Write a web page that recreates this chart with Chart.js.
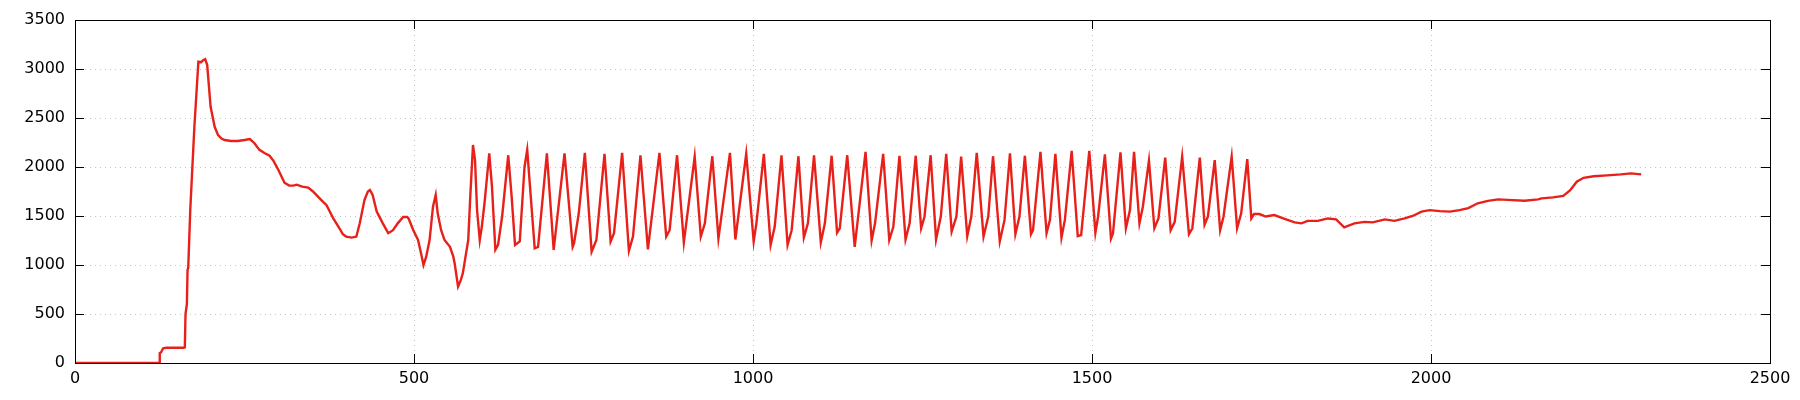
<!DOCTYPE html>
<html>
<head>
<meta charset="utf-8">
<script src="https://cdn.jsdelivr.net/npm/chart.js@4/dist/chart.umd.min.js"></script>
<style>
  html, body { margin: 0; padding: 0; background: #fff; }
  #wrap { width: 1800px; height: 400px; }
</style>
</head>
<body>
<div id="wrap"><canvas id="chart" width="1800" height="400"></canvas></div>
<script>
// x positions of the samples
const xValues = [
  0, 124, 125, 127, 130, 135, 160, 162, 163, 165, 166, 167, 170, 176, 182, 186, 189, 192, 195, 200,
  206, 211, 216, 221, 230, 240, 250, 258, 265, 272, 280, 287, 293, 300, 309, 316, 322, 327, 335, 344,
  351, 363, 371, 381, 390, 395, 400, 408, 415, 420, 427, 432, 435, 439, 445, 454, 462, 469, 476, 484,
  490, 492, 499, 506, 511, 514, 518, 523, 528, 532, 535, 540, 545, 553, 558, 560, 565, 569, 572, 576,
  580, 583, 587, 590, 593, 597, 600, 604, 611, 615, 620, 624, 630, 639, 644, 649, 656, 663, 667, 678,
  683, 696, 706, 722, 734, 736, 743, 752, 762, 769, 781, 790, 795, 807, 817, 823, 834, 845, 862, 872,
  877, 888, 898, 914, 923, 929, 940, 949, 966, 974, 990, 1001, 1005, 1016, 1026, 1032, 1042, 1051, 1057, 1067,
  1075, 1081, 1090, 1100, 1106, 1116, 1124, 1128, 1139, 1150, 1166, 1175, 1180, 1192, 1201, 1207, 1216, 1225, 1231, 1240,
  1248, 1253, 1262, 1270, 1277, 1285, 1293, 1300, 1307, 1316, 1322, 1330, 1340, 1347, 1354, 1364, 1371, 1379, 1387, 1393,
  1401, 1410, 1413, 1424, 1433, 1438, 1446, 1455, 1460, 1470, 1479, 1484, 1496, 1505, 1509, 1519, 1528, 1531, 1542, 1550,
  1556, 1562, 1570, 1575, 1584, 1592, 1598, 1608, 1616, 1622, 1633, 1643, 1648, 1659, 1666, 1671, 1681, 1689, 1694, 1706,
  1714, 1720, 1729, 1735, 1739, 1747, 1756, 1769, 1784, 1799, 1809, 1818, 1833, 1848, 1860, 1872, 1887, 1902, 1914, 1932,
  1946, 1961, 1973, 1986, 1998, 2013, 2028, 2042, 2055, 2069, 2084, 2099, 2113, 2138, 2158, 2163, 2180, 2195, 2205, 2215,
  2225, 2240, 2260, 2280, 2295, 2310
];

// measured values at those positions
const yValues = [
  0, 0, 100, 110, 150, 155, 155, 160, 500, 600, 950, 970, 1560, 2400, 3075, 3070, 3090, 3100, 3040, 2615,
  2410, 2325, 2290, 2275, 2265, 2265, 2275, 2285, 2240, 2175, 2140, 2115, 2060, 1970, 1840, 1810, 1810, 1820, 1800, 1790,
  1750, 1665, 1610, 1475, 1375, 1315, 1290, 1280, 1290, 1425, 1665, 1750, 1765, 1715, 1545, 1425, 1325, 1355, 1425, 1490,
  1490, 1475, 1355, 1255, 1100, 1000, 1085, 1255, 1595, 1715, 1525, 1355, 1255, 1185, 1085, 1015, 780, 845, 915, 1085,
  1255, 1700, 2225, 2070, 1560, 1255, 1390, 1630, 2140, 1800, 1155, 1205, 1495, 2120, 1700, 1205, 1240, 2000, 2175, 1170,
  1185, 2140, 1155, 2140, 1185, 1220, 1525, 2145, 1135, 1255, 2135, 1240, 1325, 2145, 1145, 1290, 2120, 1160, 2145, 1290,
  1355, 2120, 1230, 2105, 1290, 1425, 2110, 1270, 2145, 1260, 2135, 1240, 1425, 2135, 1205, 1390, 2120, 1205, 1355, 2110,
  1280, 1425, 2120, 1230, 1425, 2115, 1330, 1375, 2120, 1185, 2155, 1250, 1425, 2135, 1255, 1390, 2115, 1260, 1425, 2115,
  1375, 1495, 2120, 1260, 1495, 2135, 1340, 1495, 2105, 1295, 1495, 2145, 1290, 1495, 2110, 1240, 1460, 2140, 1315, 1495,
  2115, 1315, 1355, 2155, 1325, 1460, 2135, 1280, 1460, 2165, 1295, 1305, 2165, 1330, 1495, 2130, 1270, 1325, 2150, 1375,
  1560, 2155, 1425, 1595, 2065, 1375, 1475, 2095, 1355, 1440, 2105, 1315, 1375, 2095, 1410, 1495, 2070, 1355, 1495, 2105,
  1375, 1525, 2080, 1475, 1520, 1520, 1495, 1510, 1470, 1435, 1425, 1450, 1450, 1475, 1465, 1385, 1425, 1440, 1435, 1465,
  1450, 1475, 1500, 1545, 1560, 1550, 1545, 1560, 1580, 1630, 1655, 1670, 1665, 1655, 1670, 1680, 1690, 1705, 1760, 1850,
  1890, 1905, 1915, 1925, 1935, 1925
];

const xTicks = [0, 500, 1000, 1500, 2000, 2500];
const yTicks = [0, 500, 1000, 1500, 2000, 2500, 3000, 3500];

const points = xValues.map((x, i) => ({ x: x, y: yValues[i] }));

// gnuplot-like frame: full box and inward ticks on all four sides
const framePlugin = {
    id: 'frame',
    afterDraw(chart) {
        const ctx = chart.ctx;
        const a = chart.chartArea;
        const xs = chart.scales.x;
        const ys = chart.scales.y;
        const len = 9;
        ctx.save();
        ctx.strokeStyle = '#000';
        ctx.lineWidth = 1;
        ctx.beginPath();
        xTicks.forEach(v => {
            const px = Math.round(xs.getPixelForValue(v)) + 0.5;
            ctx.moveTo(px, a.bottom);
            ctx.lineTo(px, a.bottom - len);
            ctx.moveTo(px, a.top);
            ctx.lineTo(px, a.top + len);
        });
        yTicks.forEach(v => {
            const py = Math.round(ys.getPixelForValue(v)) + 0.5;
            ctx.moveTo(a.left, py);
            ctx.lineTo(a.left + len, py);
            ctx.moveTo(a.right, py);
            ctx.lineTo(a.right - len, py);
        });
        ctx.stroke();
        ctx.strokeRect(Math.round(a.left) + 0.5, Math.round(a.top) + 0.5,
            Math.round(a.right - a.left), Math.round(a.bottom - a.top));
        ctx.restore();
    }
};

new Chart(document.getElementById('chart').getContext('2d'), {
    type: 'line',
    data: {
        datasets: [{
            data: points,
            borderColor: '#e8201a',
            borderWidth: 2.4,
            pointRadius: 0,
            tension: 0,
            fill: false
        }]
    },
    options: {
        responsive: false,
        animation: false,
        devicePixelRatio: 1,
        layout: { padding: { top: 20, right: 30, left: 0, bottom: 0 } },
        plugins: {
            legend: { display: false },
            tooltip: { enabled: false }
        },
        scales: {
            x: {
                type: 'linear',
                min: 0,
                max: 2500,
                afterBuildTicks: s => { s.ticks = xTicks.map(v => ({ value: v })); },
                afterFit: s => { s.height = 37; },
                ticks: {
                    color: '#000',
                    padding: 6,
                    callback: v => String(v),
                    font: { family: 'DejaVu Sans', size: 16 }
                },
                grid: { color: '#c4c4c4', lineWidth: 1, drawTicks: false },
                border: { display: false, dash: [1, 4] }
            },
            y: {
                min: 0,
                max: 3500,
                afterBuildTicks: s => { s.ticks = yTicks.map(v => ({ value: v })); },
                afterFit: s => { s.width = 75; },
                ticks: {
                    color: '#000',
                    padding: 10,
                    callback: v => String(v),
                    font: { family: 'DejaVu Sans', size: 16 }
                },
                grid: { color: '#c4c4c4', lineWidth: 1, drawTicks: false },
                border: { display: false, dash: [1, 4] }
            }
        }
    },
    plugins: [framePlugin]
});
</script>
</body>
</html>
